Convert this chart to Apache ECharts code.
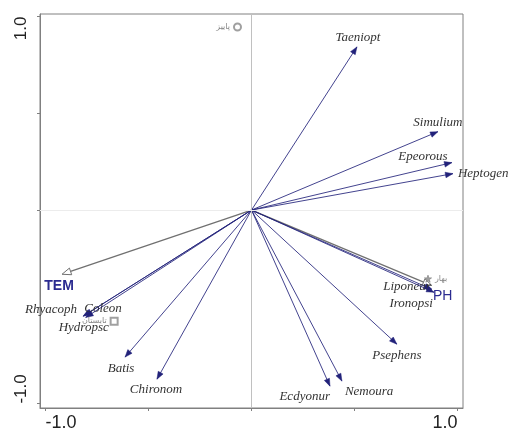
<!DOCTYPE html>
<html>
<head>
<meta charset="utf-8">
<script src="https://cdn.jsdelivr.net/npm/echarts@6/dist/echarts.min.js"></script>
<style>html,body{margin:0;padding:0;background:#fff}#c{width:511px;height:432px}</style>
</head>
<body>
<div id="c"></div>
<script>
// ---- data (CCA biplot scores) ----
const species = ['Taeniopt','Simulium','Epeorous','Heptogen','Liponeur','Ironopsi','Psephens','Nemoura','Ecdyonur','Chironom','Batis','Rhyacoph','Coleon','Hydropsc'];
const speciesX = [0.512, 0.905, 0.973, 0.978, 0.876, 0.886, 0.706, 0.439, 0.381, -0.459, -0.614, -0.818, -0.812, -0.805];
const speciesY = [0.843, 0.405, 0.245, 0.188, -0.410, -0.425, -0.693, -0.884, -0.910, -0.874, -0.760, -0.549, -0.545, -0.555];
const envVars = ['TEM','PH'];
const envX = [-0.920, 0.876];
const envY = [-0.332, -0.390];
const seasons = ['پاییز','تابستان','بهار'];
const seasonX = [-0.068, -0.667, 0.857];
const seasonY = [0.946, -0.575, -0.355];
const tickValues = [-1, -0.5, 0, 0.5, 1];
const labelValues = [-1, 1];

// ---- styling (label placement relative to arrow tips) ----
const spLabel = {
  Taeniopt:{dx:1,dy:-9,a:'center'}, Simulium:{dx:0,dy:-9,a:'center'}, Epeorous:{dx:-29,dy:-6,a:'center'},
  Heptogen:{dx:5,dy:0,a:'left'}, Liponeur:{dx:-1,dy:-3,a:'right'}, Ironopsi:{dx:-1,dy:11,a:'right'},
  Psephens:{dx:0,dy:11,a:'center'}, Nemoura:{dx:3,dy:10,a:'left'}, Ecdyonur:{dx:0,dy:10,a:'right'},
  Chironom:{dx:-1,dy:10,a:'center'}, Batis:{dx:-4,dy:11,a:'center'}, Rhyacoph:{dx:-6,dy:-7,a:'right'},
  Coleon:{dx:0,dy:-7,a:'left'}, Hydropsc:{dx:-2,dy:10,a:'center'}
};
const envLabel = { TEM:{dx:-3,dy:12,a:'center',w:'bold'}, PH:{dx:1,dy:11,a:'left',w:'normal'} };
const seasonSym = ['emptyCircle','emptyRect','path://M50,0 L61,35 L98,35 L68,57 L79,91 L50,70 L21,91 L32,57 L2,35 L39,35 Z'];
const seasonLabelPos = ['left','left','right'];

const chart = echarts.init(document.getElementById('c'), null, {renderer:'canvas'});

function arrowItem(params, api, names, lab, opts) {
  const i = params.dataIndex;
  const o = api.coord([0,0]);
  const t = api.coord([api.value(0), api.value(1)]);
  const ang = Math.atan2(t[1]-o[1], t[0]-o[0]);
  const c = Math.cos(ang), s = Math.sin(ang);
  const L = opts.headLen, W = opts.headW;
  const bx = t[0]-L*c, by = t[1]-L*s;
  const p1 = [bx - W*s, by + W*c], p2 = [bx + W*s, by - W*c];
  const name = names[i];
  const lb = lab[name];
  const children = [
    {type:'line', shape:{x1:o[0],y1:o[1],x2:opts.hollow?bx:t[0],y2:opts.hollow?by:t[1]}, style:{stroke:opts.color, lineWidth:opts.lw, opacity:opts.op}},
    {type:'polygon', shape:{points:[t,p1,p2]}, style:{fill:opts.hollow?'#fff':opts.color, stroke:opts.color, lineWidth:opts.hollow?1:0.5}},
    {type:'text', x:t[0]+lb.dx, y:t[1]+lb.dy, style:{text:name, font:opts.font(lb), fill:opts.textColor, align:lb.a, verticalAlign:'middle'}}
  ];
  return {type:'group', children};
}

chart.setOption({
  animation:false,
  backgroundColor:'#fff',
  grid:{left:40, right:48, top:14, bottom:23, show:true, borderColor:'#808080', borderWidth:1},
  xAxis:{type:'value', min:-1.027, max:1.027,
    axisLine:{show:true, onZero:false, lineStyle:{color:'#808080'}},
    axisTick:{show:true, customValues:tickValues, length:3, lineStyle:{color:'#808080'}},
    axisLabel:{customValues:labelValues, formatter:v=>v.toFixed(1), fontFamily:'Liberation Sans', fontSize:18, color:'#222', margin:6, alignMinLabel:'left', alignMaxLabel:'right'},
    splitLine:{show:false}},
  yAxis:{type:'value', min:-1.023, max:1.013,
    axisLine:{show:true, onZero:false, lineStyle:{color:'#808080'}},
    axisTick:{show:true, customValues:tickValues, length:3, lineStyle:{color:'#808080'}},
    axisLabel:{customValues:labelValues, formatter:v=>v.toFixed(1), rotate:90, fontFamily:'Liberation Sans', fontSize:17, color:'#222', margin:10, alignMinLabel:'left', alignMaxLabel:'right'},
    splitLine:{show:false}},
  series:[
    {type:'scatter', data:[], z:1, silent:true,
      markLine:{silent:true, symbol:'none', label:{show:false},
        data:[{xAxis:0, lineStyle:{color:'#c0c0c0', width:1, type:'solid'}}, {yAxis:0, lineStyle:{color:'#ececec', width:1, type:'solid'}}]}},
    {type:'custom', z:3, silent:true,
      data: envVars.map((n,i)=>[envX[i], envY[i]]),
      renderItem:(p,api)=>arrowItem(p,api,envVars,envLabel,{color:'#707070', lw:1.3, op:1, headLen:9, headW:3.5, hollow:true, textColor:'#2b2b90', font:lb=>lb.w+' 14px "Liberation Sans"'})},
    {type:'custom', z:4, silent:true,
      data: species.map((n,i)=>[speciesX[i], speciesY[i]]),
      renderItem:(p,api)=>arrowItem(p,api,species,spLabel,{color:'#22227a', lw:1, op:0.85, headLen:7.5, headW:2.8, hollow:false, textColor:'#333', font:()=>'italic 13px "Liberation Serif"'})},
    {type:'scatter', z:5, silent:true,
      data: seasons.map((n,i)=>({name:n, value:[seasonX[i], seasonY[i]], symbol:seasonSym[i], label:{position:seasonLabelPos[i]}})),
      symbolSize:7, itemStyle:{color:'#888', borderColor:'#888', borderWidth:1},
      label:{show:true, formatter:'{b}', fontFamily:'DejaVu Sans', fontSize:8, color:'#666', distance:3}}
  ]
});
</script>
</body>
</html>
